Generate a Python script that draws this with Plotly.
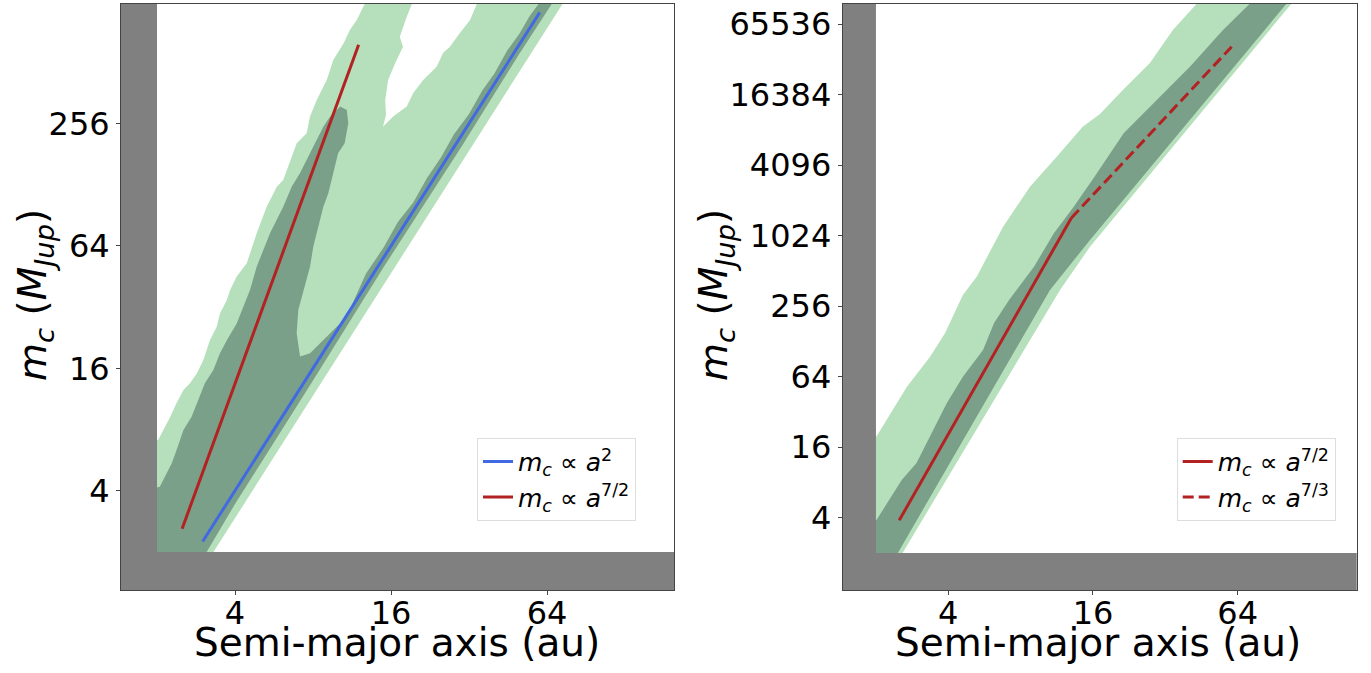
import numpy as np
import plotly.graph_objects as go

# ---------------- data ----------------
# Left panel: outer (light) contour boundary, semi-major axis [au] / companion mass [M_Jup]
left_outer_a = [1.4, 1.4, 2.02, 2.12, 2.25, 2.38, 2.53, 2.68, 2.85, 3.02, 3.20, 3.40, 3.50, 3.72,
                3.83, 4.06, 4.44, 4.85, 5.30, 5.80, 6.14, 6.92, 7.56, 7.79, 8.27, 9.04, 9.58,
                10.5, 11.1, 11.8, 12.7, 12.9, 19.3, 19.3, 18.4, 17.3, 17.8, 16.6, 15.6, 15.2,
                15.3, 14.9, 16.3, 18.4, 19.5, 21.3, 24.0, 25.4, 27.0, 29.5, 32.3, 34.4, 34.4,
                77.4, 2.56]
left_outer_m = [1.2, 7.1, 7.10, 7.95, 9.25, 10.8, 12.5, 13.5, 15.1, 17.6, 22.0, 25.6, 29.8, 34.7,
                38.8, 45.2, 52.6, 73.8, 99.8, 125, 135, 205, 229, 277, 334, 419, 526,
                635, 738, 827, 999, 1100, 1100, 1000, 858, 684, 611, 506, 419, 334,
                282, 247, 277, 310, 362, 419, 487, 569, 611, 714, 827, 1000, 1100,
                1100, 1.2]

# Left panel: inner (dark) contour boundary
left_inner_a = [1.4, 1.4, 2.05, 2.15, 2.28, 2.38, 2.53, 2.72, 2.89, 3.06, 3.30, 3.50, 3.72, 4.06,
                4.31, 4.57, 4.85, 5.46, 6.14, 6.62, 7.13, 7.79, 8.27, 8.77, 9.31, 10.2, 10.8,
                10.95, 10.6, 10.0, 9.58, 9.16, 8.77, 8.39, 8.02, 7.79, 7.39, 7.02, 6.92, 7.13,
                7.79, 8.77, 9.88, 10.8, 11.5, 12.8, 15, 17, 19.5, 22, 25, 28, 32, 36, 40, 45,
                50, 55, 60, 62.3, 70.4, 50, 30, 15, 8, 4, 3.11, 2.39]
left_inner_m = [1.2, 3.74, 4.18, 4.69, 5.46, 6.34, 7.95, 9.25, 11.2, 13.5, 15.7, 19.0, 22.0, 26.6,
                32.2, 38.8, 50.6, 73.8, 99.8, 125, 146, 183, 212, 247, 277, 310, 298,
                257, 205, 183, 146, 116, 99.8, 79.6, 63.4, 50.6, 38.8, 31.0, 23.8, 18.3,
                19.0, 22.0, 25.6, 28.7, 34.5, 46.7, 63.0, 83.8, 104.6, 137.9, 175, 227, 285, 372,
                448, 587, 705, 871, 1008, 1100, 1100, 562, 198, 50.4, 13.95, 3.44, 2.0, 1.2]

# Right panel: outer (light) contour boundary
right_outer_a = [1.4, 1.4, 2.01, 2.25, 2.69, 3.36, 3.88, 4.60, 5.25, 6.76, 8.75, 11.3, 14.5, 17.1,
                 21.3, 27.6, 34.4, 43.3, 45, 116, 107.3, 15.55, 11.67, 2.60, 2.05]
right_outer_m = [0.9, 19.7, 19.7, 29.1, 52.6, 94.8, 151, 319, 457, 1222, 2684, 4841, 8733, 11213,
                 17970, 30550, 58500, 98400, 120000, 120000, 98400, 825, 352, 2.05, 0.9]

# Right panel: inner (dark) contour boundary
right_inner_a = [1.4, 1.4, 2.01, 2.29, 2.56, 2.95, 3.36, 3.94, 4.60, 5.58, 6.2, 7.16, 9.09, 11.0,
                 13.3, 16.1, 21.5, 29.4, 40.5, 55.6, 72.0, 76, 110, 102.3, 15.55, 10.6, 2.48, 1.97]
right_inner_m = [0.9, 3.82, 3.82, 5.89, 8.40, 11.7, 19.7, 37.9, 64, 108, 184, 289, 557, 1073,
                 1812, 3185, 7718, 14770, 28420, 58500, 98400, 120000, 120000, 98400, 941, 352, 2.05, 0.9]

# Excluded region (a < 2 au or m_c < 2 M_Jup)
cut_a = 2.0
cut_m = 2.0

# Power-law guide lines
left_a2_a = [3.0, 60.0]
left_a2_m = [2.25, 900.0]
left_a72_a = [2.5, 12.0]
left_a72_m = [2.6, 625.0]
right_a72_a = [2.5, 13.0]
right_a72_m = [3.8, 1450.0]
right_a73_a = [13.0, 60.4]
right_a73_m = [1450.0, 42100.0]

left_xticks = [4, 16, 64]
left_yticks = [4, 16, 64, 256]
right_xticks = [4, 16, 64]
right_yticks = [4, 16, 64, 256, 1024, 4096, 16384, 65536]

# ---------------- styling ----------------
LIGHT = "rgb(182,224,187)"
DARK = "rgb(123,160,137)"
GRAY = "rgb(128,128,128)"
BLUE = "#4169e1"
RED = "#b22222"
FONT = "DejaVu Sans"
W, H = 1371, 673

fig = go.Figure()


def poly(a, m, color, xa, ya):
    fig.add_trace(go.Scatter(x=a, y=m, mode="lines", fill="toself", fillcolor=color,
                             line=dict(width=0, color=color), hoverinfo="skip",
                             showlegend=False, xaxis=xa, yaxis=ya))


def gray(xa, ya, lo, hi):
    a = [0.5, 0.5, cut_a, cut_a, 1000, 1000, 0.5]
    m = [lo, hi, hi, cut_m, cut_m, lo, lo]
    poly(a, m, GRAY, xa, ya)


poly(left_outer_a, left_outer_m, LIGHT, "x", "y")
poly(left_inner_a, left_inner_m, DARK, "x", "y")
gray("x", "y", 0.5, 5000)
poly(right_outer_a, right_outer_m, LIGHT, "x2", "y2")
poly(right_inner_a, right_inner_m, DARK, "x2", "y2")
gray("x2", "y2", 0.3, 5e5)

mc = "<i>m</i><sub><i>c</i></sub>"
fig.add_trace(go.Scatter(x=left_a2_a, y=left_a2_m, mode="lines", line=dict(color=BLUE, width=3),
                         name=mc + " ∝ <i>a</i><sup>2</sup>", legend="legend", xaxis="x", yaxis="y"))
fig.add_trace(go.Scatter(x=left_a72_a, y=left_a72_m, mode="lines", line=dict(color=RED, width=3),
                         name=mc + " ∝ <i>a</i><sup>7/2</sup>", legend="legend", xaxis="x", yaxis="y"))
fig.add_trace(go.Scatter(x=right_a72_a, y=right_a72_m, mode="lines", line=dict(color=RED, width=3),
                         name=mc + " ∝ <i>a</i><sup>7/2</sup>", legend="legend2", xaxis="x2", yaxis="y2"))
fig.add_trace(go.Scatter(x=right_a73_a, y=right_a73_m, mode="lines",
                         line=dict(color=RED, width=3, dash="11px,5px"),
                         name=mc + " ∝ <i>a</i><sup>7/3</sup>", legend="legend2", xaxis="x2", yaxis="y2"))

ydom = [1 - 590 / H, 1 - 3.5 / H]
axis_common = dict(type="log", showgrid=False, zeroline=False, showline=True, mirror=True,
                   linecolor="#444", linewidth=1, ticks="outside", ticklen=4, tickcolor="#444",
                   tickfont=dict(family=FONT, size=32, color="black"), automargin=False)
xstand = dict(ticklabelstandoff=-9)

fig.update_layout(
    width=W, height=H, margin=dict(l=0, r=0, t=0, b=0),
    paper_bgcolor="white", plot_bgcolor="white", template="none",
    font=dict(family=FONT, color="black"),
    xaxis=dict(domain=[121 / W, 674 / W], range=[0.1621, 2.2963], anchor="y",
               tickvals=left_xticks, ticktext=[str(v) for v in left_xticks], **axis_common, **xstand),
    yaxis=dict(domain=ydom, range=[0.11364, 2.99856], anchor="x",
               tickvals=left_yticks, ticktext=[str(v) for v in left_yticks], **axis_common),
    xaxis2=dict(domain=[842.7 / W, 1356.7 / W], range=[0.1627, 2.3014], anchor="y2",
                tickvals=right_xticks, ticktext=[str(v) for v in right_xticks], **axis_common, **xstand),
    yaxis2=dict(domain=ydom, range=[-0.01538, 4.9932], anchor="x2",
                tickvals=right_yticks, ticktext=[str(v) for v in right_yticks], **axis_common),
    legend=dict(x=636 / W, y=1 - 520.7 / H, xanchor="right", yanchor="bottom",
                bgcolor="rgba(255,255,255,0.85)", bordercolor="#dddddd", borderwidth=1,
                font=dict(family=FONT, size=25, color="black")),
    legend2=dict(x=1335.7 / W, y=1 - 520.7 / H, xanchor="right", yanchor="bottom",
                 bgcolor="rgba(255,255,255,0.85)", bordercolor="#dddddd", borderwidth=1,
                 font=dict(family=FONT, size=25, color="black")),
)

ytitle = mc + " (<i>M</i><sub><i>Jup</i></sub>)"
for xc in (35, 716):
    fig.add_annotation(text=ytitle, x=xc / W, y=1 - 295 / H, xref="paper", yref="paper",
                       showarrow=False, textangle=-90, xanchor="center", yanchor="middle",
                       font=dict(family=FONT, size=39, color="black"))
for xc in (397, 1098):
    fig.add_annotation(text="Semi-major axis (au)", x=xc / W, y=1 - 642 / H, xref="paper",
                       yref="paper", showarrow=False, xanchor="center", yanchor="middle",
                       font=dict(family=FONT, size=39, color="black"))

fig.write_html("out.html")
